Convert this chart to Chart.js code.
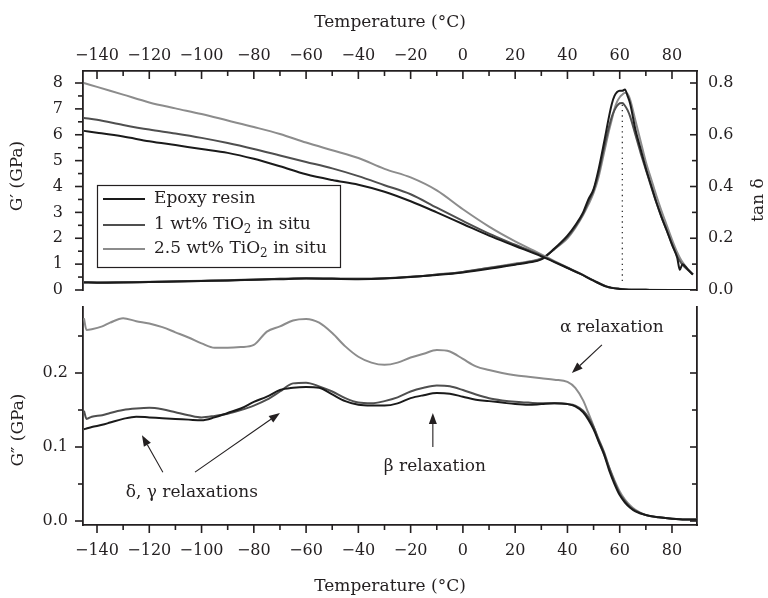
<!DOCTYPE html>
<html>
<head>
<meta charset="utf-8">
<script src="https://cdn.jsdelivr.net/npm/chart.js@4.4.1/dist/chart.umd.min.js"></script>
<style>
  html, body { margin: 0; padding: 0; background: #fff; }
  #wrap { position: relative; width: 768px; height: 598px; }
  #topChart { position: absolute; left: 0; top: 0; }
  #botChart { position: absolute; left: 0; top: 298px; }
</style>
</head>
<body>
<div id="wrap">
  <canvas id="topChart" width="768" height="298"></canvas>
  <canvas id="botChart" width="768" height="300"></canvas>
</div>
<script>
// series names
const seriesNames = ["Epoxy resin", "1 wt% TiO₂ in situ", "2.5 wt% TiO₂ in situ"];

// G' (GPa) vs temperature
const tGp = [-145,-140,-130,-120,-110,-100,-90,-80,-70,-60,-50,-40,-30,-20,-10,0,10,20,30,35,40,45,50,55,60,65,70,80,90];
const gpEpoxy = [6.15,6.08,5.93,5.75,5.6,5.45,5.3,5.07,4.78,4.47,4.25,4.07,3.8,3.43,3.0,2.55,2.1,1.7,1.3,1.08,0.85,0.62,0.36,0.13,0.04,0.01,0.005,0,0];
const gpTi1 = [6.65,6.58,6.38,6.2,6.05,5.88,5.68,5.45,5.2,4.95,4.7,4.4,4.05,3.7,3.18,2.67,2.18,1.75,1.33,1.1,0.86,0.62,0.36,0.13,0.04,0.01,0.005,0,0];
const gpTi25 = [8.0,7.85,7.55,7.25,7.02,6.8,6.55,6.3,6.03,5.7,5.4,5.1,4.68,4.35,3.85,3.12,2.45,1.88,1.38,1.12,0.87,0.63,0.37,0.14,0.045,0.012,0.005,0,0];

// tan delta vs temperature
const tTan = [-145,-140,-130,-120,-110,-100,-90,-80,-70,-60,-50,-40,-30,-20,-10,0,10,20,25,30,35,40,43,46,48,50,52,54,56,57,58,59,60,61,62,63,64,66,68,70,72,74,76,78,80,82,83,84,86,88];
const tanEpoxy = [0.029,0.028,0.029,0.031,0.033,0.035,0.037,0.04,0.042,0.044,0.043,0.042,0.044,0.05,0.058,0.068,0.082,0.098,0.106,0.118,0.16,0.21,0.25,0.3,0.35,0.39,0.47,0.57,0.675,0.72,0.75,0.765,0.77,0.77,0.775,0.75,0.72,0.62,0.545,0.47,0.405,0.34,0.282,0.23,0.175,0.125,0.078,0.1,0.08,0.06];
const tanTi1 = [0.03,0.029,0.03,0.031,0.033,0.035,0.037,0.04,0.043,0.045,0.044,0.043,0.045,0.051,0.06,0.07,0.085,0.1,0.108,0.12,0.158,0.205,0.245,0.295,0.34,0.385,0.455,0.55,0.635,0.67,0.695,0.712,0.722,0.723,0.712,0.695,0.67,0.6,0.53,0.465,0.4,0.338,0.282,0.23,0.178,0.13,0.112,0.098,0.078,0.06];
const tanTi25 = [0.03,0.029,0.03,0.032,0.034,0.036,0.038,0.041,0.043,0.045,0.044,0.043,0.045,0.051,0.06,0.07,0.086,0.102,0.11,0.122,0.158,0.2,0.24,0.29,0.33,0.375,0.44,0.53,0.62,0.66,0.7,0.728,0.745,0.755,0.762,0.758,0.735,0.655,0.575,0.495,0.43,0.365,0.305,0.25,0.195,0.145,0.125,0.108,0.082,0.06];

// tan delta peak marker
const peakTemp = [61, 61];
const peakTan = [0.035, 0.72];

// G'' (GPa) vs temperature
const tGpp = [-145,-144,-142,-138,-135,-130,-125,-120,-115,-110,-105,-100,-95,-90,-85,-80,-75,-70,-65,-60,-55,-50,-45,-40,-35,-30,-25,-20,-15,-10,-5,0,5,10,15,20,25,30,35,40,43,46,48,50,52,54,56,58,60,62,64,66,70,75,80,85,90];
const gppEpoxy = [0.124,0.125,0.127,0.13,0.133,0.138,0.141,0.14,0.139,0.138,0.137,0.136,0.14,0.146,0.152,0.161,0.168,0.177,0.18,0.181,0.18,0.171,0.162,0.157,0.156,0.156,0.159,0.166,0.17,0.173,0.172,0.168,0.164,0.162,0.16,0.158,0.157,0.158,0.159,0.158,0.155,0.147,0.137,0.124,0.107,0.09,0.068,0.05,0.035,0.025,0.018,0.013,0.008,0.005,0.003,0.002,0.002];
const gppTi1 = [0.149,0.138,0.141,0.143,0.146,0.15,0.152,0.153,0.151,0.147,0.143,0.14,0.142,0.145,0.15,0.156,0.164,0.175,0.186,0.187,0.182,0.175,0.166,0.16,0.159,0.162,0.167,0.175,0.18,0.183,0.182,0.177,0.171,0.166,0.163,0.161,0.16,0.159,0.159,0.158,0.156,0.149,0.14,0.127,0.11,0.093,0.072,0.053,0.037,0.027,0.019,0.014,0.008,0.005,0.003,0.002,0.002];
const gppTi25 = [0.274,0.258,0.259,0.263,0.268,0.274,0.27,0.267,0.262,0.255,0.248,0.24,0.234,0.234,0.235,0.238,0.256,0.263,0.271,0.273,0.268,0.254,0.236,0.222,0.214,0.211,0.214,0.221,0.226,0.231,0.229,0.219,0.209,0.204,0.2,0.197,0.195,0.193,0.191,0.188,0.18,0.163,0.146,0.128,0.107,0.09,0.072,0.055,0.04,0.029,0.021,0.015,0.008,0.005,0.003,0.002,0.002];

// ticks
const tempMajor = [-140,-120,-100,-80,-60,-40,-20,0,20,40,60,80];
const tempMinor = [-130,-110,-90,-70,-50,-30,-10,10,30,50,70];
const gpMajor = [0,1,2,3,4,5,6,7,8];
const gpMinor = [0.5,1.5,2.5,3.5,4.5,5.5,6.5,7.5];
const tanMajor = [0,0.2,0.4,0.6,0.8];
const tanMinor = [0.1,0.3,0.5,0.7];
const gppMajor = [0,0.1,0.2];
const gppMinor = [0.05,0.15,0.25];

const FONT = "'DejaVu Serif', serif";
const INK = "#231f20";
const colors = ["#1a1a1a", "#4f4f4f", "#8c8c8c"];

Chart.defaults.font.family = FONT;
Chart.defaults.color = INK;

function pts(xs, ys) {
  return xs.map((x, i) => ({ x: x, y: ys[i] }));
}

function curve(xs, ys, color, yAxis) {
  return {
    data: pts(xs, ys),
    yAxisID: yAxis,
    borderColor: color,
    borderWidth: 2,
    pointRadius: 0,
    fill: false,
    cubicInterpolationMode: "monotone"
  };
}

// fixed axis sizes, no automatic label padding
function noPad(s) { s.paddingTop = 0; s.paddingBottom = 0; s.paddingLeft = 0; s.paddingRight = 0; }
function fixW(w) { return s => { s.width = w; noPad(s); }; }
function fixH(h) { return s => { s.height = h; noPad(s); }; }
function setTicks(vals) { return s => { s.ticks = vals.map(v => ({ value: v })); }; }
function fmtTemp(v) { return v < 0 ? "\u2212" + Math.abs(v) : String(v); }

const grid = { display: true, drawOnChartArea: false, drawTicks: false };
const border = { display: true, color: INK, width: 1.8 };
const tickFont = { size: 16 };

// draws major / minor tick marks through the scales
function tickMarks(sets) {
  return {
    id: "tickMarks",
    afterDraw(chart) {
      const ctx = chart.ctx, a = chart.chartArea;
      ctx.save();
      ctx.strokeStyle = INK;
      ctx.lineWidth = 1.6;
      sets.forEach(m => {
        const s = chart.scales[m.axis];
        const mark = (v, len) => {
          if (v < s.min || v > s.max) return;
          const p = s.getPixelForValue(v);
          ctx.beginPath();
          if (m.side === "top" || m.side === "bottom") {
            const y = m.side === "top" ? a.top : a.bottom;
            ctx.moveTo(p, y); ctx.lineTo(p, y + m.dir * len);
          } else {
            const x = m.side === "left" ? a.left : a.right;
            ctx.moveTo(x, p); ctx.lineTo(x + m.dir * len, p);
          }
          ctx.stroke();
        };
        m.major.forEach(v => mark(v, m.big));
        m.minor.forEach(v => mark(v, m.small));
      });
      ctx.restore();
    }
  };
}

function vText(ctx, text, x, y) {
  ctx.save();
  ctx.translate(x, y);
  ctx.rotate(-Math.PI / 2);
  ctx.textAlign = "center";
  ctx.textBaseline = "middle";
  ctx.fillText(text, 0, 0);
  ctx.restore();
}

// text with ₂ drawn as a real subscript
function richText(ctx, str, x, y, size) {
  const bits = str.split("₂");
  let cx = x;
  bits.forEach((b, i) => {
    ctx.font = size + "px " + FONT;
    ctx.fillText(b, cx, y);
    cx += ctx.measureText(b).width;
    if (i < bits.length - 1) {
      ctx.font = Math.round(size * 0.7) + "px " + FONT;
      ctx.fillText("2", cx, y + size * 0.3);
      cx += ctx.measureText("2").width;
    }
  });
}

function arrow(ctx, x1, y1, x2, y2) {
  const ang = Math.atan2(y2 - y1, x2 - x1);
  const L = 11, W = 4;
  const bx = x2 - L * Math.cos(ang), by = y2 - L * Math.sin(ang);
  ctx.beginPath(); ctx.moveTo(x1, y1); ctx.lineTo(bx, by); ctx.stroke();
  ctx.beginPath();
  ctx.moveTo(x2, y2);
  ctx.lineTo(bx + W * Math.sin(ang), by - W * Math.cos(ang));
  ctx.lineTo(bx - W * Math.sin(ang), by + W * Math.cos(ang));
  ctx.closePath();
  ctx.fill();
}

// TOP PANEL extras: legend + side titles
const topExtras = {
  id: "topExtras",
  afterDraw(chart) {
    const ctx = chart.ctx, a = chart.chartArea;
    ctx.save();
    ctx.fillStyle = INK;
    ctx.font = "17px " + FONT;
    vText(ctx, "G\u2032 (GPa)", 18, 176);
    vText(ctx, "tan \u03b4", 759, 200);

    const lx = a.left + 14, ly = a.top + 114;
    ctx.fillStyle = "#fff";
    ctx.fillRect(lx, ly, 243, 82);
    ctx.strokeStyle = INK;
    ctx.lineWidth = 1.2;
    ctx.strokeRect(lx + 0.5, ly + 0.5, 243, 82);
    const rows = [14, 40, 64];
    ctx.textAlign = "left";
    ctx.textBaseline = "middle";
    seriesNames.forEach((name, i) => {
      ctx.strokeStyle = colors[i];
      ctx.lineWidth = 2;
      ctx.beginPath();
      ctx.moveTo(lx + 6, ly + rows[i]);
      ctx.lineTo(lx + 48, ly + rows[i]);
      ctx.stroke();
      ctx.fillStyle = INK;
      richText(ctx, name, lx + 57, ly + rows[i], 17);
    });
    ctx.restore();
  }
};

// BOTTOM PANEL extras: annotations + side title
const notes = [
  { text: "\u03b1 relaxation", x: 57, y: 0.262 },
  { text: "\u03b2 relaxation", x: -10.7, y: 0.073 },
  { text: "\u03b4, \u03b3 relaxations", x: -103.7, y: 0.039 }
];
const arrows = [
  { from: [53.2, 0.238], to: [41.7, 0.2] },
  { from: [-11.5, 0.1], to: [-11.5, 0.146] },
  { from: [-114.8, 0.066], to: [-122.8, 0.116] },
  { from: [-102.5, 0.066], to: [-70, 0.146] }
];

const botExtras = {
  id: "botExtras",
  afterDraw(chart) {
    const ctx = chart.ctx;
    const sx = chart.scales.x, sy = chart.scales.y;
    ctx.save();
    ctx.fillStyle = INK;
    ctx.strokeStyle = INK;
    ctx.font = "17px " + FONT;
    vText(ctx, "G\u2033 (GPa)", 19, 132);
    ctx.textAlign = "center";
    ctx.textBaseline = "middle";
    notes.forEach(n => {
      ctx.fillText(n.text, sx.getPixelForValue(n.x), sy.getPixelForValue(n.y));
    });
    ctx.lineWidth = 1.1;
    arrows.forEach(r => {
      arrow(ctx,
        sx.getPixelForValue(r.from[0]), sy.getPixelForValue(r.from[1]),
        sx.getPixelForValue(r.to[0]), sy.getPixelForValue(r.to[1]));
    });
    ctx.restore();
  }
};

const xMin = -145.36, xMax = 89.57;

// TOP CHART
new Chart(document.getElementById("topChart"), {
  type: "line",
  data: {
    datasets: [
      curve(tGp, gpEpoxy, colors[0], "y"),
      curve(tGp, gpTi1, colors[1], "y"),
      curve(tGp, gpTi25, colors[2], "y"),
      curve(tTan, tanEpoxy, colors[0], "y2"),
      curve(tTan, tanTi1, colors[1], "y2"),
      curve(tTan, tanTi25, colors[2], "y2"),
      {
        data: pts(peakTemp, peakTan),
        yAxisID: "y2",
        borderColor: "#333",
        borderWidth: 1.3,
        borderDash: [1.3, 4],
        pointRadius: 0,
        fill: false
      }
    ]
  },
  options: {
    responsive: false,
    animation: false,
    layout: { autoPadding: false, padding: { top: 0, bottom: 8, left: 0, right: 0 } },
    plugins: { legend: { display: false }, tooltip: { enabled: false } },
    scales: {
      x: {
        type: "linear", position: "top", min: xMin, max: xMax,
        afterBuildTicks: setTicks(tempMajor), afterFit: fixH(71),
        grid: grid, border: border,
        ticks: { padding: 6, font: tickFont, callback: fmtTemp, autoSkip: false, maxRotation: 0 },
        title: { display: true, text: "Temperature (°C)", font: { size: 17 }, padding: { top: 12, bottom: 0 } }
      },
      y: {
        position: "left", min: 0, max: 8.464,
        afterBuildTicks: setTicks(gpMajor), afterFit: fixW(83),
        grid: grid, border: border,
        ticks: { padding: 20, font: tickFont, autoSkip: false }
      },
      y2: {
        position: "right", min: 0, max: 0.8464,
        afterBuildTicks: setTicks(tanMajor), afterFit: fixW(71),
        grid: grid, border: border,
        ticks: { padding: 11, font: tickFont, autoSkip: false, callback: v => v.toFixed(1) }
      }
    }
  },
  plugins: [
    tickMarks([
      { axis: "x", side: "top", dir: 1, major: tempMajor, minor: tempMinor, big: 8, small: 5 },
      { axis: "y", side: "left", dir: -1, major: gpMajor, minor: gpMinor, big: 8, small: 5 },
      { axis: "y2", side: "right", dir: -1, major: tanMajor, minor: tanMinor, big: 7, small: 5 }
    ]),
    topExtras
  ]
});

// BOTTOM CHART
new Chart(document.getElementById("botChart"), {
  type: "line",
  data: {
    datasets: [
      curve(tGpp, gppEpoxy, colors[0], "y"),
      curve(tGpp, gppTi1, colors[1], "y"),
      curve(tGpp, gppTi25, colors[2], "y")
    ]
  },
  options: {
    responsive: false,
    animation: false,
    layout: { autoPadding: false, padding: { top: 9, bottom: 0, left: 0, right: 0 } },
    plugins: { legend: { display: false }, tooltip: { enabled: false } },
    scales: {
      x: {
        type: "linear", position: "bottom", min: xMin, max: xMax,
        afterBuildTicks: setTicks(tempMajor), afterFit: fixH(73),
        grid: grid, border: border,
        ticks: { padding: 16, font: tickFont, callback: fmtTemp, autoSkip: false, maxRotation: 0 },
        title: { display: true, text: "Temperature (°C)", font: { size: 17 }, padding: { top: 0, bottom: 1 } }
      },
      y: {
        position: "left", min: -0.0054, max: 0.2892,
        afterBuildTicks: setTicks(gppMajor), afterFit: fixW(83),
        grid: grid, border: border,
        ticks: { padding: 15, font: tickFont, autoSkip: false, callback: v => v.toFixed(1) }
      },
      yR: {
        position: "right", min: -0.0054, max: 0.2892,
        afterBuildTicks: setTicks(gppMajor), afterFit: fixW(71),
        grid: grid, border: border,
        ticks: { display: false }
      }
    }
  },
  plugins: [
    tickMarks([
      { axis: "x", side: "bottom", dir: 1, major: tempMajor, minor: tempMinor, big: 8, small: 5 },
      { axis: "y", side: "left", dir: -1, major: gppMajor, minor: gppMinor, big: 8, small: 5 },
      { axis: "yR", side: "right", dir: -1, major: gppMajor, minor: gppMinor, big: 7, small: 5 }
    ]),
    botExtras
  ]
});
</script>
</body>
</html>
